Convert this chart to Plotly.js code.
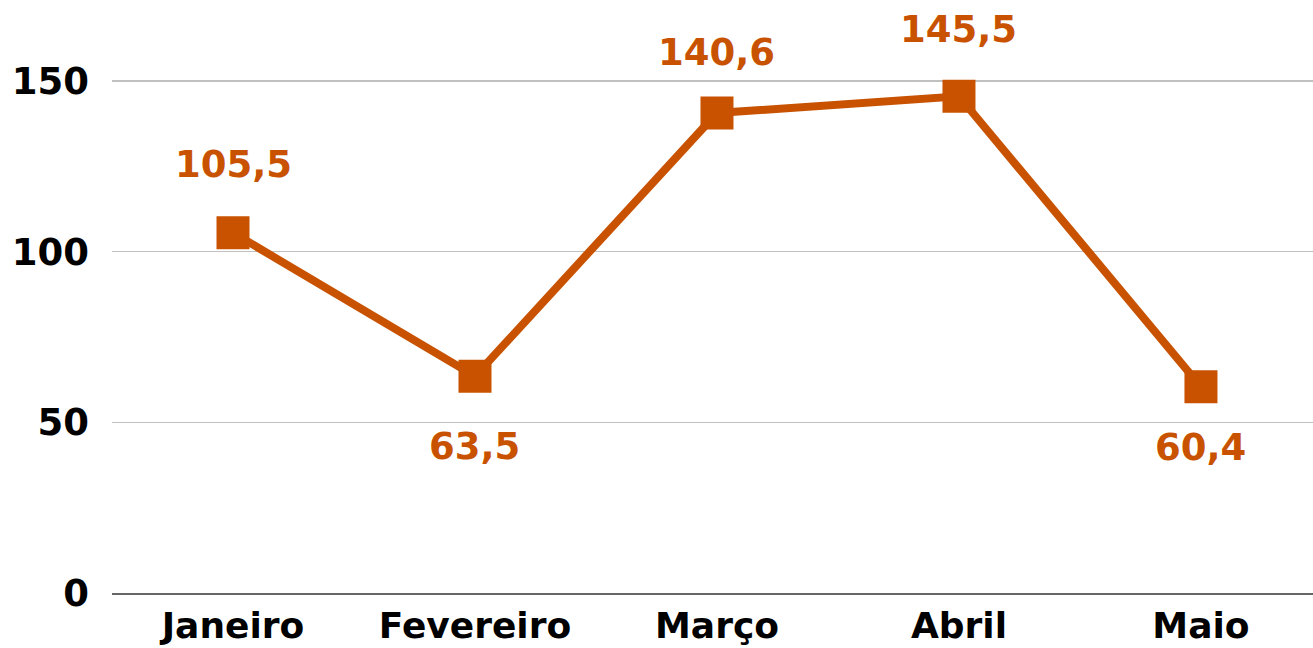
<!DOCTYPE html>
<html>
<head>
<meta charset="utf-8">
<script src="https://cdn.plot.ly/plotly-3.0.1.min.js"></script>
<style>html,body{margin:0;padding:0;background:#fff;}#chart{width:1313px;height:648px;}</style>
</head>
<body>
<div id="chart"></div>
<script>
const categories = ['Janeiro', 'Fevereiro', 'Março', 'Abril', 'Maio'];
const values = [105.5, 63.5, 140.6, 145.5, 60.4];
const yTicks = [0, 50, 100, 150];

// label offsets (pixels) relative to each point
const labelShift = [68, -70, 61, 67, -61];

const color = '#C85200';
const font = 'DejaVu Sans, sans-serif';

const annotations = categories.map((c, i) => ({
  x: i, y: values[i], xref: 'x', yref: 'y',
  text: values[i].toFixed(1).replace('.', ','),
  showarrow: false,
  yshift: labelShift[i],
  font: {family: font, size: 37, color: color, weight: 'bold'}
}));

Plotly.newPlot('chart', [{
  x: [0, 1, 2, 3, 4],
  y: values,
  type: 'scatter',
  mode: 'lines+markers',
  line: {color: color, width: 8},
  marker: {symbol: 'square', size: 33, color: color},
  hoverinfo: 'none'
}], {
  width: 1313, height: 648,
  margin: {l: 112, r: 0, t: 0, b: 55},
  paper_bgcolor: '#fff', plot_bgcolor: '#fff',
  showlegend: false,
  xaxis: {
    range: [-0.5, 4.463],
    tickvals: [0, 1, 2, 3, 4], ticktext: categories,
    showgrid: false, zeroline: false,
    showline: true, linecolor: '#666', linewidth: 2,
    ticks: '', ticklabelstandoff: 0,
    tickfont: {family: font, size: 36, color: '#000', weight: 'bold'}
  },
  yaxis: {
    range: [0, 173.7],
    tickvals: yTicks, ticktext: yTicks.map(String),
    showgrid: true, gridcolor: '#c0c0c0', gridwidth: 1.5,
    zeroline: false, showline: false,
    ticks: '', ticklabelstandoff: 22,
    tickfont: {family: font, size: 37, color: '#000', weight: 'bold'}
  },
  annotations: annotations
}, {displayModeBar: false, staticPlot: true});
</script>
</body>
</html>
